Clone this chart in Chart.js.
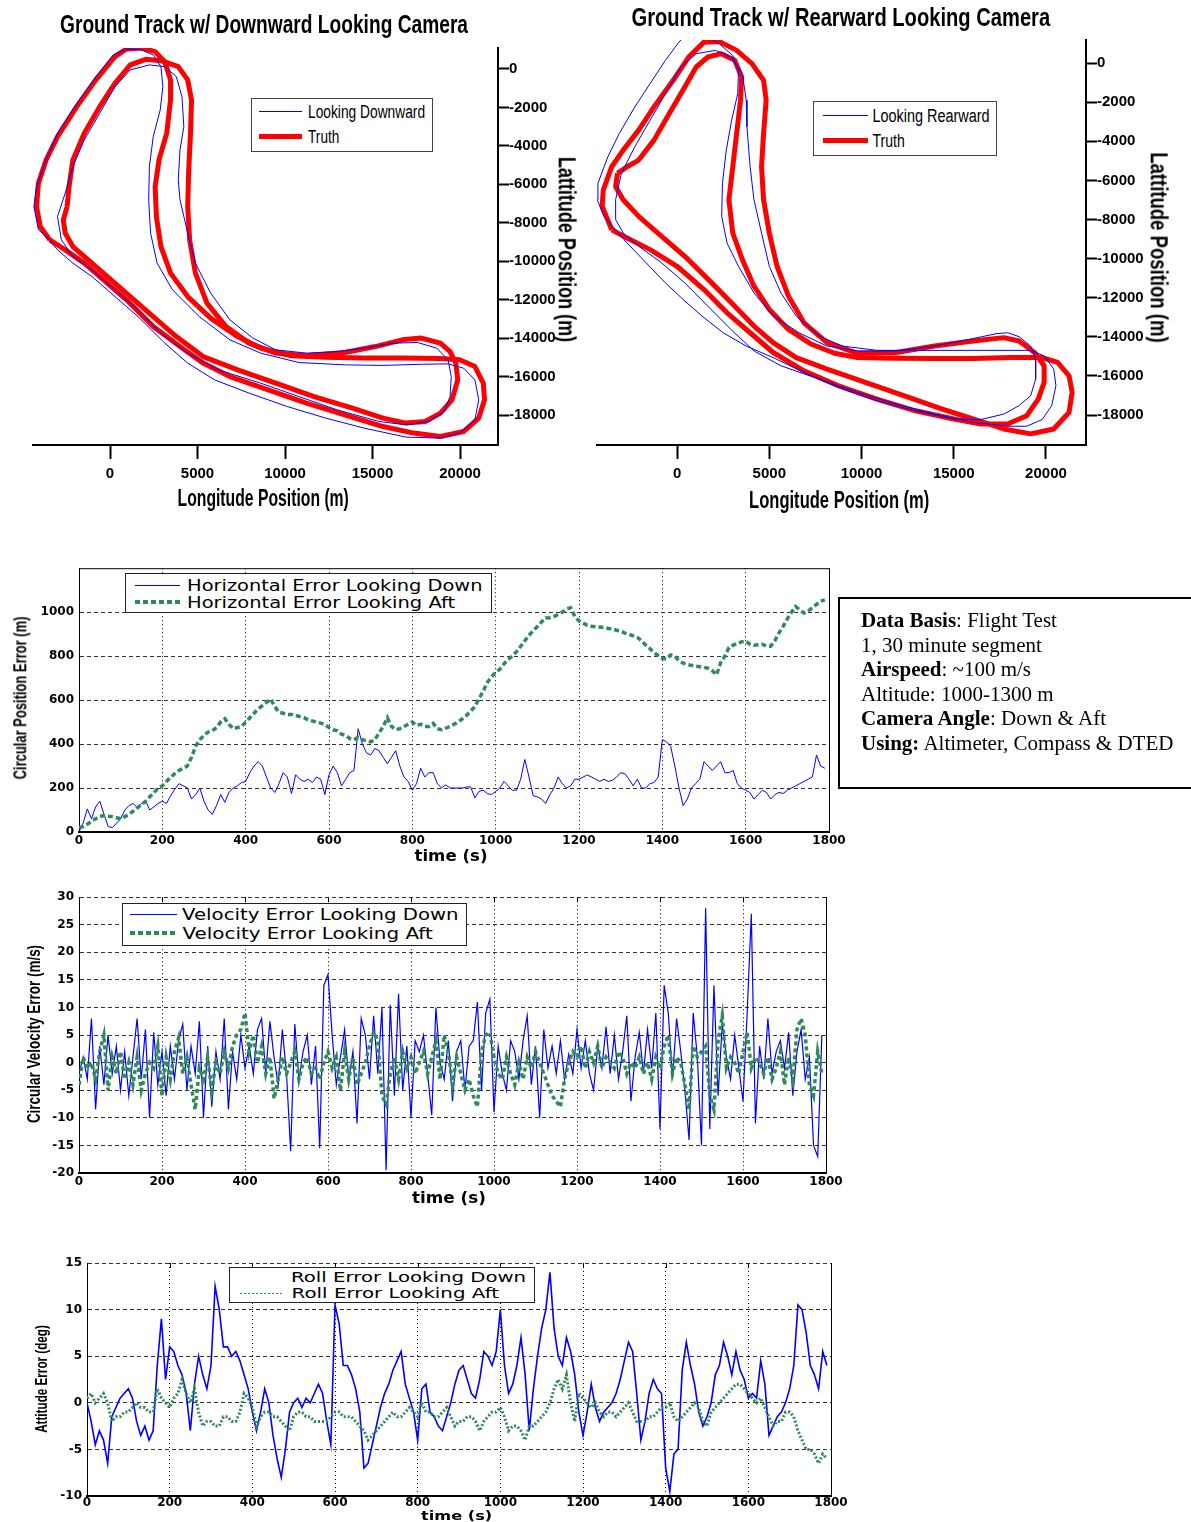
<!DOCTYPE html>
<html><head><meta charset="utf-8">
<script src="https://cdn.jsdelivr.net/npm/chart.js@4.4.1/dist/chart.umd.min.js"></script>
<style>
html,body{margin:0;padding:0;background:#fff;}
body{width:1191px;height:1522px;position:relative;overflow:hidden;}
canvas{position:absolute;}
.lbl{position:absolute;white-space:nowrap;line-height:1;color:#000;transform-origin:50% 50%;}
.box{position:absolute;background:#fff;border:1px solid #444;box-sizing:border-box;}
.ln{position:absolute;}
#note{position:absolute;left:838px;top:597px;width:360px;height:192px;border:2px solid #000;box-sizing:border-box;
 font:21px "Liberation Serif","Times New Roman",serif;line-height:24.6px;padding:9px 0 0 21px;color:#000;}
</style></head><body>
<canvas id="c1" width="590" height="520" style="left:0;top:0"></canvas>
<canvas id="c2" width="599" height="520" style="left:592px;top:0"></canvas>
<canvas id="c3" width="850" height="310" style="left:0;top:556px"></canvas>
<canvas id="c4" width="850" height="330" style="left:0;top:885px"></canvas>
<canvas id="c5" width="850" height="272" style="left:0;top:1250px"></canvas>

<div class="box" style="left:251px;top:98px;width:182px;height:54px"></div>
<div class="ln" style="left:259px;top:111px;width:43px;height:1px;background:#00f"></div>
<div class="ln" style="left:259px;top:134px;width:43px;height:5px;background:#f00"></div>
<div class="box" style="left:813px;top:101px;width:184px;height:55px"></div>
<div class="ln" style="left:823px;top:115px;width:45px;height:1px;background:#00f"></div>
<div class="ln" style="left:823px;top:138px;width:45px;height:5px;background:#f00"></div>

<div class="box" style="left:125px;top:573px;width:367px;height:40px;border-color:#222"></div>
<div class="ln" style="left:135px;top:585px;width:45px;height:1px;background:#00f"></div>
<div class="ln" style="left:135px;top:600px;width:45px;height:4px;background:repeating-linear-gradient(90deg,#2e8b57 0 5px,transparent 5px 8px)"></div>
<div class="box" style="left:122px;top:903px;width:345px;height:43px;border-color:#222"></div>
<div class="ln" style="left:130px;top:914px;width:47px;height:1px;background:#00f"></div>
<div class="ln" style="left:130px;top:931px;width:47px;height:4px;background:repeating-linear-gradient(90deg,#2e8b57 0 5px,transparent 5px 8px)"></div>
<div class="box" style="left:229px;top:1267px;width:306px;height:36px;border-color:#222"></div>
<div class="ln" style="left:240px;top:1293px;width:43px;height:1px;background:repeating-linear-gradient(90deg,#2e8b57 0 2px,transparent 2px 4px)"></div>

<div id="note"><b>Data Basis</b>: Flight Test<br>1, 30 minute segment<br><b>Airspeed</b>: ~100 m/s<br>Altitude: 1000-1300 m<br><b>Camera Angle</b>: Down &amp; Aft<br><b>Using:</b> Altimeter, Compass &amp; DTED</div>

<script>
// ---------------- tick labels ----------------
const LON_TICKS = [0, 5000, 10000, 15000, 20000];
const LAT_TICKS = [0, -2000, -4000, -6000, -8000, -10000, -12000, -14000, -16000, -18000];
const TIME_TICKS = [0, 200, 400, 600, 800, 1000, 1200, 1400, 1600, 1800];
const POS_TICKS = [0, 200, 400, 600, 800, 1000];
const VEL_TICKS = [30, 25, 20, 15, 10, 5, 0, -5, -10, -15, -20];
const ATT_TICKS = [15, 10, 5, 0, -5, -10];

// ---------------- ground track: downward camera [lon m, lat m] ----------------
const DOWN_TRUTH_LAP1 = [[-3440,-8890],[-3980,-8200],[-4200,-7160],[-4090,-5940],[-3650,-4730],[-3000,-3520],[-1900,-1960],[-810,-570],[280,640],[940,1040],[1820,1090],[2580,900],[3130,380],[3460,-570],[3460,-1610],[3240,-3340],[2800,-4730],[2580,-6120],[2650,-7680],[2910,-9240],[3460,-10620],[4440,-11840],[5750,-12960],[7290,-13920],[8600,-14520],[10350,-14920],[12320,-14990],[14510,-15040],[16700,-15040],[18880,-15060],[19980,-15130],[20850,-15480],[21330,-16340],[21400,-17210],[21070,-18160],[20200,-18860],[18880,-19120],[17350,-18940],[15600,-18600],[13410,-17990],[11230,-17380],[9040,-16690],[6850,-16000],[5320,-15300],[4000,-14440],[2470,-13400],[940,-12010],[-370,-10970],[-1470,-10100],[-2560,-9410],[-3440,-8890]];
const DOWN_TRUTH_LAP2 = [[-2450,-7160],[-2670,-7850],[-2560,-8540],[-2120,-9240],[-1250,-9930],[-150,-10800],[1160,-11840],[2470,-12880],[3790,-13920],[5320,-14960],[7290,-15650],[9470,-16340],[11660,-17040],[13850,-17640],[15600,-18160],[16910,-18420],[18010,-18340],[18880,-17900],[19540,-17210],[19870,-16170],[19760,-15300],[19430,-14700],[18880,-14260],[17790,-14000],[16700,-14090],[15160,-14440],[13410,-14750],[11230,-14920],[9470,-14780],[7940,-14260],[6630,-13400],[5540,-12180],[4880,-10620],[4550,-8890],[4440,-7160],[4490,-5420],[4600,-3340],[4660,-1610],[4440,-570],[3900,120],[2910,430],[2040,500],[1160,210],[280,-750],[-590,-1960],[-1470,-3340],[-2120,-4730],[-2340,-6120],[-2450,-7160]];
const DOWN_EST_LAP1 = [[-3540,-8800],[-4090,-8370],[-4350,-7160],[-4200,-6120],[-3650,-4730],[-3000,-3340],[-1900,-1790],[-810,-400],[180,730],[940,1040],[1710,1020],[2470,730],[2910,120],[3020,-920],[2870,-2130],[2470,-3520],[2250,-5080],[2210,-6810],[2320,-8540],[2690,-10100],[3570,-11490],[5100,-12880],[6850,-14090],[8600,-14780],[10790,-15270],[13410,-15390],[15600,-15420],[17790,-15360],[19320,-15340],[20200,-15560],[20850,-16170],[21070,-17210],[20850,-18250],[19980,-18940],[18880,-19200],[16910,-19150],[14510,-18680],[12320,-18160],[10130,-17560],[7940,-16860],[5970,-16170],[4440,-15300],[3130,-14260],[1600,-12880],[280,-11840],[-1030,-10800],[-2120,-10100],[-3000,-9410],[-3540,-8800]];
const DOWN_EST_LAP2 = [[-2560,-6460],[-3000,-7680],[-2780,-8890],[-2120,-9760],[-1030,-10450],[280,-11490],[1600,-12530],[2910,-13740],[4440,-14780],[6190,-15650],[8600,-16340],[10790,-17040],[12980,-17730],[15380,-18340],[16910,-18510],[18230,-18340],[19100,-17820],[19430,-17040],[19500,-16000],[19320,-15130],[18670,-14520],[17570,-14230],[16260,-14260],[14510,-14520],[12980,-14700],[11230,-14780],[9470,-14610],[8160,-14000],[6850,-13050],[5750,-11660],[4880,-10100],[4440,-8540],[4000,-6810],[3900,-5770],[4000,-4210],[4220,-3000],[4110,-1440],[3790,-400],[3130,120],[2250,210],[1160,-50],[280,-920],[-590,-2310],[-1470,-3690],[-2120,-5080],[-2560,-6460]];

// ---------------- ground track: rearward camera ----------------
const REAR_TRUTH_LAP1 = [[-3540,-8520],[-4060,-7330],[-4000,-6490],[-3540,-5300],[-2920,-4450],[-2080,-3430],[-1250,-2240],[-210,-880],[630,310],[1460,1070],[2290,1100],[3230,650],[4060,-30],[4690,-880],[4830,-1900],[4690,-3600],[4580,-5300],[4690,-6990],[5000,-8690],[5420,-10390],[6040,-11920],[6880,-13280],[8130,-14300],[9790,-14840],[11880,-14800],[13960,-14470],[16040,-14210],[17710,-14040],[18540,-14210],[19380,-14800],[19900,-15480],[19900,-16330],[19580,-17180],[18960,-18030],[17920,-18460],[16460,-18460],[15000,-18200],[12920,-17780],[10830,-17180],[8750,-16500],[6880,-15740],[5210,-14800],[3960,-13790],[2710,-12770],[1460,-11580],[0,-10390],[-1460,-9540],[-2710,-8950],[-3540,-8520]];
const REAR_TRUTH_LAP2 = [[-3230,-5640],[-3330,-6320],[-2920,-6990],[-2080,-7840],[-1040,-8690],[420,-9880],[1880,-11240],[3130,-12430],[4170,-13450],[5210,-14300],[6460,-15060],[8130,-15650],[10210,-16330],[12290,-17010],[14380,-17690],[16040,-18200],[17710,-18710],[19170,-18960],[20420,-18710],[21250,-17860],[21420,-16840],[21250,-15990],[20630,-15310],[19790,-15060],[18130,-15060],[16040,-15110],[13960,-15110],[11880,-15090],[9790,-15060],[8540,-14840],[7290,-14380],[6040,-13620],[5000,-12600],[4170,-11410],[3540,-10050],[3020,-8690],[2810,-6990],[3020,-5300],[3230,-3600],[3440,-1900],[3500,-710],[3130,140],[2400,480],[1670,310],[1040,-200],[420,-1220],[-420,-2580],[-1250,-3940],[-2080,-4960],[-2710,-5300],[-3230,-5640]];
const REAR_EST_LAP1 = [[-3330,-8520],[-3960,-7840],[-4330,-6990],[-4290,-6150],[-3750,-4790],[-3130,-3600],[-2290,-2240],[-1460,-1050],[-630,140],[100,1070],[630,1580],[1460,1490],[2290,980],[3020,390],[3330,-370],[3290,-1560],[2960,-2920],[2670,-4450],[2460,-6150],[2420,-7840],[2710,-9200],[3330,-10390],[4170,-11750],[5210,-12940],[6670,-13820],[8130,-14470],[9790,-14720],[11880,-14720],[13960,-14470],[16040,-14090],[17290,-13840],[17920,-13790],[18540,-13990],[19170,-14470],[19440,-15140],[19440,-16160],[19170,-17010],[18540,-17520],[17710,-17950],[16460,-18230],[15000,-18200],[12920,-17780],[10830,-17270],[8750,-16590],[6880,-15820],[5210,-15060],[3750,-14470],[2500,-13790],[1460,-13020],[420,-12170],[-630,-11240],[-1670,-10220],[-2710,-9200],[-3330,-8520]];
const REAR_EST_LAP2 = [[-2920,-8690],[-3330,-8010],[-3330,-6990],[-3020,-5640],[-2290,-4280],[-1460,-2920],[-630,-1560],[210,-200],[1040,480],[2080,650],[2920,310],[3540,-540],[3750,-1900],[3790,-3260],[3960,-5300],[4170,-6990],[4580,-8690],[5000,-10390],[5630,-11750],[6460,-12940],[7710,-13960],[8960,-14470],[10830,-14690],[12920,-14690],[15000,-14690],[17080,-14690],[19170,-14690],[19900,-14970],[20420,-15650],[20540,-16500],[20310,-17520],[19790,-18230],[18960,-18570],[17920,-18570],[16040,-18370],[13960,-17950],[11880,-17440],[9790,-16840],[7710,-16160],[5630,-15480],[4170,-14720],[2920,-13620],[1670,-12430],[420,-11240],[-830,-10220],[-2080,-9370],[-2920,-8690]];

// ---------------- time series, one sample every 10 s ----------------
const TIME_S = Array.from({length: 180}, (_, i) => i * 10);
const POS_DOWN = [0,40,105,60,115,140,80,25,20,40, 60,100,120,130,110,130,140,100,115,130, 140,130,165,195,220,210,200,150,170,200, 140,100,80,120,170,135,180,200,210,225, 230,270,300,320,300,250,200,180,220,270, 250,175,260,240,230,240,225,250,240,170, 260,300,270,210,240,270,280,470,400,360, 350,380,370,340,310,340,370,300,250,230, 190,220,290,250,270,270,220,200,215,200, 200,200,200,205,205,155,185,190,175,170, 185,200,230,210,190,190,240,330,250,165, 160,150,130,170,200,250,220,200,210,240, 240,250,260,250,240,230,240,230,235,250, 270,265,240,210,240,200,200,220,225,250, 420,410,390,300,200,120,150,200,220,240, 320,300,280,300,320,270,270,280,220,200, 190,180,150,170,190,180,150,170,180,175, 190,200,210,220,230,240,250,350,300,290];
const POS_AFT = [20,25,35,50,60,70,75,72,70,65, 60,70,80,95,110,125,140,160,180,200, 210,230,250,265,280,290,300,340,390,420, 440,455,460,475,500,515,490,470,475,480, 500,520,540,560,575,590,605,570,545,540, 535,535,530,525,520,510,505,500,495,490, 475,465,460,445,440,425,420,430,420,415, 410,420,450,480,520,480,465,470,480,490, 500,485,490,480,480,494,470,465,472,480, 490,500,515,530,550,570,607,640,680,705, 727,740,765,785,800,820,845,870,895,915, 935,955,974,975,980,990,1000,1015,1020,980, 960,950,940,936,934,932,930,926,924,918, 914,905,899,892,885,870,850,835,815,803, 790,787,805,800,779,768,762,758,754,752, 749,745,734,715,770,800,839,850,858,865, 869,855,850,852,854,845,845,870,906,935, 970,1000,1026,1010,996,1005,1020,1035,1050,1056];
const VEL_DOWN = [-2,1,-3,8,-8.5,3,-4,5,-2,3, -5,2,-6,1,8,-3,6,-10,5.5,-4, 2,-6,3,-3,4,7,-5,3,-2,7.5, -10,3,-8,2,-3,8,-8.5,2,-3,5, -1,3,-2,6,8,-2,7.5,1,-4,6, -2,-16,7,-3,2,5,-4,3,-15.5,14, 16,5,-4,1,6,-3,2,-11,8,5, -3,8.5,-2,10,-19.5,10.5,-6,12.5,-5,3, -10,4,2,5,-2,-9.5,10,0,-3,4, -7,2,4,-5,3,4,11,-5,9,11.5, -9,3,-2,-5,4,2,-3,4,8.5,-4, 3,-10,6,-1,3,-2,4,-3,1.5,-2, 6,-1,4,-2,-5,3,-1,6.5,-2,5, -3,2,8.5,-7,1,5.5,-2,6,-1,9, -12,14,9,-3,8,2,-5,-14,9,1, -15,28,-12,14,-6,7,1,-3,5,-1, -7,9,27,-11,3,-3,8,-2,2,4, -1,5.5,-6,2,6,-3,1,-15,-17,5];
const VEL_AFT = [-4,1,-1,0,-3,2,5,-5,1,-2, 2,-3,0,-4,1,-5,-2,0,-1,3, -6,1,-3,2,4.5,-2,1,-4,-8.5,-1, -3,1,-5,0,-2,2,-1,3,5,6, 9,2,5,0,3,-2,1,-6.5,-3,1, -2,0,2,-3,0,1,-2,-1,-3,0, 2,-1,1,-5,2,-3,1,-4,-2,0, 3,5.5,4,-6,-7.5,-2,1,-3,2,-1, 1,-2,0,2,-2,1,4,-3,5,2, -4,1,-2,-5,-3,-6,-8,2,5,5.5, 1,-2,-3,1,-2,-4,0,-3,1,-1, 2,0,-2,-4,-6,-7,-8,-3,0,2, 1,3,-1,2,0,3,-1,1,0,-1, 2,1,-2,0,-1,1,-2,0,-3,1, -1,3,5,-2,1,0,-4,-8.5,3,1, 2,3,-6,-8.5,4,8.5,-1,1,0,-2, 2,5.5,-1,1,0,-2,1,-3,-1,2, -4,1,-3,6,8,5,-4,-6,2,-2];
const ATT_DOWN = [0,-2,-4.5,-3,-4,-6.5,-1.5,-0.5,0.5,1, 1.5,0.5,-2,-3.5,-2.5,-4,-3,4,9,2.5, 6,5.5,4,3,1,-3,2,5,3,1.5, 4,12.5,10,6,6,5,5.5,4.5,3,1.5, -1,-3,-1,1.5,0,-3.5,-6,-8,-5,-1, 0,0.5,-0.5,0.5,0,1,2,1,-2,-4.5, 10.5,8.5,4,4,3,1.5,-1,-7,-6.5,-4.5, -2.5,-0.5,1,2,3.5,4.5,5.5,2,0.5,-1, -4,1.5,2,-1,-1.5,-2.5,-3,-1.5,0,2, 3.5,4,2.5,1,0.5,2.5,5.5,5,4,5.5, 10,4,1,2,4,7,3,-3,1.5,5, 8,10,14,8,5,4,7,5.5,3,-1, -3.5,-1,2,-0.5,-2,-1,-0.5,0,1,2.5, 4.5,6.5,5.5,1,-4,-2,1,2.5,1.5,1, -7,-9.5,-5.5,-5,3.5,6.5,4,2,-1,-2.5, -1.5,0,3,4,6.5,5,3,5.5,3.5,2.5, 0.5,1,0.5,4.5,2,-3.5,-2.5,-1.5,-1,0, 1.5,4,10.5,10,7.5,4,3,1.5,5.5,4];
const ATT_AFT = [0.5,1,0,0.5,1,0,-2,-1.5,-1.5,-1, -1,-0.5,0,-0.5,-0.5,-1,-1,1.5,0.5,0, -0.5,0.5,1,2.5,1,0,1.5,-1,-2.5,-2, -2,-2.5,-2.5,-1.5,-1.5,-2,-2,-1,1,0.5, -0.5,-2.5,-1.5,-1,-1,-1.5,-1.5,-2,-2.5,-3, -1.5,-1,-1,-1.5,-1.5,-2,-2,-2,-2,-1.5, -1,-1,-1.5,-1.5,-1.5,-2,-2.5,-3,-4,-3.5, -3,-2.5,-2,-1.5,-1,-1.5,-1.5,-1,-0.5,-1, -1.5,0,-1,-1,-1.5,-1.5,-1,-0.5,-1.5,-2.5, -2,-2,-1.5,-1.5,-2,-3,-2,-1.5,-1,-1, -0.5,-1.5,-3,-2.5,-2.5,-3,-4,-2.5,-2.5,-2, -1.5,-1,0,1.5,2.5,1.5,3,0,-2,1, 0.5,0,-0.5,0,-1,-1.5,-1,-1,-1.5,-1, -0.5,0,-1,-2,-2,-2,-1.5,-1.5,-1,-0.5, -0.5,0,-1.5,-2,-1.5,-1,-0.5,0,-0.5,-2, -2.5,-1,-0.5,0,0.5,1,1.5,2,2,1.5, 1,0.5,0,0.5,-0.5,-1.5,-2.5,-2,-2,-1, -1,-1.5,-3,-4,-5,-5,-5.5,-6.5,-5.5,-6];

// ---------------- helpers ----------------
const BLUE = '#0000ff', RED = '#ff0000', GREEN = '#2e8b57';
const pairs = arr => arr.map(p => ({x: p[0], y: p[1]}));
const series = vals => vals.map((v, i) => ({x: TIME_S[i], y: v}));
const fixTicks = list => s => { s.ticks = list.map(v => ({value: v})); };

const framePlugin = {
  id: 'frame',
  afterDraw(chart, args, o) {
    const {ctx, chartArea: a} = chart;
    ctx.save(); ctx.strokeStyle = '#000'; ctx.lineWidth = 1; ctx.beginPath();
    if (o.top) { ctx.moveTo(a.left, a.top + 0.5); ctx.lineTo(a.right, a.top + 0.5); }
    if (o.right) { ctx.moveTo(a.right + 0.5, a.top); ctx.lineTo(a.right + 0.5, a.bottom); }
    if (o.topTicks) {
      const xs = chart.scales.x;
      xs.ticks.forEach(t => { const px = Math.round(xs.getPixelForValue(t.value)) + 0.5; ctx.moveTo(px, a.top); ctx.lineTo(px, a.top + 5); });
    }
    ctx.stroke(); ctx.restore();
  }
};

function trackChart(id, est1, est2, tru1, tru2, xr, yr, d) {
  const tickFont = {family: '"Liberation Sans", Arial, sans-serif', size: 15, weight: 'bold'};
  new Chart(document.getElementById(id), {
    type: 'scatter',
    data: {datasets: [
      {data: pairs(est1), showLine: true, pointRadius: 0, borderColor: BLUE, borderWidth: 1, order: 0},
      {data: pairs(est2), showLine: true, pointRadius: 0, borderColor: BLUE, borderWidth: 1, order: 0},
      {data: pairs(tru1), showLine: true, pointRadius: 0, borderColor: RED, borderWidth: 5, borderJoinStyle: 'round', order: 1},
      {data: pairs(tru2), showLine: true, pointRadius: 0, borderColor: RED, borderWidth: 5, borderJoinStyle: 'round', order: 1}
    ]},
    options: {
      responsive: false, animation: false, events: [],
      layout: {padding: {left: d.padL, top: d.padT, right: 0, bottom: 0}, autoPadding: false},
      plugins: {legend: {display: false}, tooltip: {enabled: false}},
      scales: {
        x: {type: 'linear', position: 'bottom', min: xr[0], max: xr[1],
            afterBuildTicks: fixTicks(LON_TICKS), afterFit: s => { s.height = d.xH; },
            grid: {drawOnChartArea: false, drawTicks: true, tickLength: 14, tickWidth: 2, tickColor: '#000'},
            border: {display: true, color: '#000', width: 2},
            ticks: {color: '#000', font: tickFont, padding: 6, maxRotation: 0, autoSkip: false, callback: v => String(v)}},
        y: {type: 'linear', position: 'right', min: yr[0], max: yr[1],
            afterBuildTicks: fixTicks(LAT_TICKS), afterFit: s => { s.width = d.yW; },
            grid: {drawOnChartArea: false, drawTicks: true, tickLength: 11, tickWidth: 2, tickColor: '#000'},
            border: {display: true, color: '#000', width: 2},
            ticks: {color: '#000', font: tickFont, padding: 0, autoSkip: false, callback: v => String(v)}}
      }
    }
  });
}

function timeChart(id, sets, yr, yTicks, d, frame) {
  const tickFont = {family: '"DejaVu Sans", sans-serif', size: 12, weight: 'bold'};
  new Chart(document.getElementById(id), {
    type: 'scatter',
    data: {datasets: sets},
    options: {
      responsive: false, animation: false, events: [],
      layout: {padding: {left: 0, top: d.padT, right: d.padR, bottom: 0}, autoPadding: false},
      plugins: {legend: {display: false}, tooltip: {enabled: false}, frame: frame},
      scales: {
        x: {type: 'linear', position: 'bottom', min: 0, max: 1800,
            afterBuildTicks: fixTicks(TIME_TICKS), afterFit: s => { s.height = d.xH; },
            grid: {color: '#000', lineWidth: 1, drawTicks: false},
            border: {display: true, color: '#000', width: 2, dash: [1, 3]},
            ticks: {color: '#000', font: tickFont, padding: d.xPad, maxRotation: 0, autoSkip: false, callback: v => String(v)}},
        y: {type: 'linear', position: 'left', min: yr[0], max: yr[1],
            afterBuildTicks: fixTicks(yTicks), afterFit: s => { s.width = d.yW; },
            grid: {color: '#333', lineWidth: 1, drawTicks: false},
            border: {display: true, color: '#000', width: 1, dash: [4, 3]},
            ticks: {color: '#000', font: tickFont, padding: 5, autoSkip: false, callback: v => String(v)}}
      }
    },
    plugins: [framePlugin]
  });
}

trackChart('c1', DOWN_EST_LAP1, DOWN_EST_LAP2, DOWN_TRUTH_LAP1, DOWN_TRUTH_LAP2,
  [-4400, 22170], [-19560, 1090], {padL: 33, padT: 48, yW: 92, xH: 75});
trackChart('c2', REAR_EST_LAP1, REAR_EST_LAP2, REAR_TRUTH_LAP1, REAR_TRUTH_LAP2,
  [-4340, 22170], [-19530, 1180], {padL: 5, padT: 40, yW: 105, xH: 75});

timeChart('c3', [
  {data: series(POS_AFT), showLine: true, pointRadius: 0, borderColor: GREEN, borderWidth: 3.5, borderDash: [5, 3], order: 0},
  {data: series(POS_DOWN), showLine: true, pointRadius: 0, borderColor: BLUE, borderWidth: 1, order: 1}
], [0, 1200], POS_TICKS, {padT: 9, padR: 21, yW: 79, xH: 34, xPad: 2}, {top: true, right: true});

timeChart('c4', [
  {data: series(VEL_AFT), showLine: true, pointRadius: 0, borderColor: GREEN, borderWidth: 3.5, borderDash: [4, 3], order: 0},
  {data: series(VEL_DOWN), showLine: true, pointRadius: 0, borderColor: BLUE, borderWidth: 1.2, order: 1}
], [-20, 30], VEL_TICKS, {padT: 10, padR: 24, yW: 79, xH: 42, xPad: 2}, {right: true, topTicks: true});

timeChart('c5', [
  {data: series(ATT_AFT), showLine: true, pointRadius: 0, borderColor: GREEN, borderWidth: 3, borderDash: [2, 2], order: 0},
  {data: series(ATT_DOWN), showLine: true, pointRadius: 0, borderColor: BLUE, borderWidth: 1.6, order: 1}
], [-10, 15], ATT_TICKS, {padT: 13, padR: 19, yW: 87, xH: 26, xPad: 0}, {right: true, topTicks: true});

// ---------------- real-text labels, fitted to measured widths ----------------
function placeText(txt, cx, cy, w, font, rot) {
  const el = document.createElement('div');
  el.className = 'lbl'; el.textContent = txt; el.style.font = font;
  document.body.appendChild(el);
  const ow = el.offsetWidth, oh = el.offsetHeight;
  const s = w ? w / ow : 1;
  el.style.left = (cx - ow / 2) + 'px'; el.style.top = (cy - oh / 2) + 'px';
  el.style.transform = 'rotate(' + (rot || 0) + 'deg) scaleX(' + s + ')';
}
const BIG = 'bold 25px "Liberation Sans", Arial, sans-serif';
const AX = 'bold 23px "Liberation Sans", Arial, sans-serif';
const LEG = '18px "Liberation Sans", Arial, sans-serif';
const LEG2 = '16px "DejaVu Sans", sans-serif';
const AXB = 'bold 19px "Liberation Sans", Arial, sans-serif';
const TIMEF = 'bold 15px "DejaVu Sans", sans-serif';

placeText('Ground Track w/ Downward Looking Camera', 264, 24, 408, BIG);
placeText('Ground Track w/ Rearward Looking Camera', 841, 17, 419, BIG);
placeText('Longitude Position (m)', 263, 498, 171, AX);
placeText('Longitude Position (m)', 839, 500, 180, AX);
placeText('Lattitude Position (m)', 566, 249, 185, AX, 90);
placeText('Lattitude Position (m)', 1158, 247, 190, AX, 90);
placeText('Looking Downward', 308 + 58.5, 112, 117, LEG);
placeText('Truth', 308 + 15.5, 137, 31, LEG);
placeText('Looking Rearward', 872 + 58.5, 116, 117, LEG);
placeText('Truth', 872 + 16, 141, 32, LEG);

placeText('Horizontal Error Looking Down', 187 + 148, 585, 296, LEG2);
placeText('Horizontal Error Looking Aft', 187 + 134, 602, 268, LEG2);
placeText('Velocity Error Looking Down', 182 + 138.5, 914, 277, LEG2);
placeText('Velocity Error Looking Aft', 182 + 125, 933, 250, LEG2);
placeText('Roll Error Looking Down', 291 + 117.5, 1277, 235, '14px "DejaVu Sans", sans-serif');
placeText('Roll Error Looking Aft', 291 + 104, 1293, 208, '14px "DejaVu Sans", sans-serif');

placeText('Circular Position Error (m)', 20, 698, 163, AXB, -90);
placeText('time (s)', 451, 856, 73, TIMEF);
placeText('Circular Velocity Error (m/s)', 33, 1034, 178, AXB, -90);
placeText('time (s)', 449, 1198, 74, TIMEF);
placeText('Attitude Error (deg)', 42, 1379, 108, 'bold 16px "Liberation Sans", Arial, sans-serif', -90);
placeText('time (s)', 456, 1515, 71, 'bold 13px "DejaVu Sans", sans-serif');
</script>
</body></html>
